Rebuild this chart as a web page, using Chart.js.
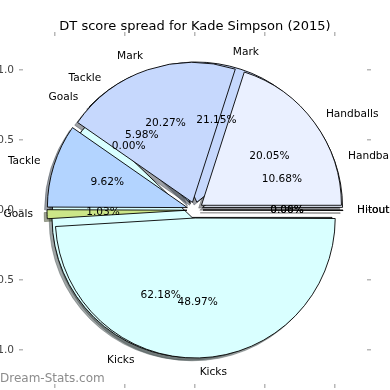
<!DOCTYPE html>
<html>
<head>
<meta charset="utf-8">
<script src="https://cdn.jsdelivr.net/npm/chart.js@4.4.1/dist/chart.umd.min.js"></script>
<style>
  html, body { margin: 0; padding: 0; background: #fff; }
  #wrap { position: relative; width: 390px; height: 390px; overflow: hidden; font-family: 'DejaVu Sans', sans-serif; }
  #wrap canvas { position: absolute; left: 0; top: 0; }
  #title { position: absolute; left: 0; top: 18.5px; width: 390px; text-align: center; font-size: 13px; line-height: 13px; color: #000; white-space: nowrap; }
  #mark { position: absolute; left: 0; top: 371.5px; font-size: 12px; line-height: 12px; color: #8c8c8c; white-space: nowrap; }
</style>
</head>
<body>
<div id="wrap">
  <canvas id="axesChart" width="390" height="420"></canvas>
  <canvas id="backPie" width="390" height="420"></canvas>
  <canvas id="frontPie" width="390" height="420"></canvas>
  <div id="title">DT score spread for Kade Simpson (2015)</div>
  <div id="mark">Dream-Stats.com</div>
</div>
<script>
// Datos (porcentajes, en orden antihorario desde las 3 en punto)
const categories = ['Handballs', 'Mark', 'Tackle', 'Goals', 'Kicks', 'Hitout'];
const backSpread = [10.68, 21.15, 5.98, 0.00, 62.18, 0.00];   // primera tarta (debajo)
const frontSpread = [20.05, 20.27, 9.62, 1.03, 48.97, 0.06];  // segunda tarta (encima)
const sliceColors = ['#eaf0ff', '#c6d8fd', '#b3d4ff', '#cce688', '#d9ffff', '#e4e4e4'];
const axisTicks = [-1.0, -0.5, 0.0, 0.5, 1.0];
const xLimit = 1.2286;
const yLimit = 1.2429;

const EXPLODE = 8;           // px que se separa cada porción
const SHADOW = [-2.8, 2.8];  // desplazamiento de la sombra
const pies = [];
let backPie = null;

function sliceShift(arc) {
    const mid = (arc.startAngle + arc.endAngle) / 2;
    return [Math.cos(mid) * EXPLODE, Math.sin(mid) * EXPLODE];
}

function shadowColor(hex) {
    const n = parseInt(hex.slice(1), 16);
    const r = Math.round(((n >> 16) & 255) * 0.3);
    const g = Math.round(((n >> 8) & 255) * 0.3);
    const b = Math.round((n & 255) * 0.3);
    return `rgba(${r},${g},${b},0.5)`;
}

function fmtTick(v) {
    return Number(v).toFixed(1).replace('-', '\u2212');
}

// Sombras de todas las porciones, dibujadas debajo de las dos tartas
const shadowPlugin = {
    id: 'pieShadows',
    afterDraw(chart) {
        const ctx = chart.ctx;
        pies.forEach(pie => {
            const colors = pie.data.datasets[0].backgroundColor;
            pie.getDatasetMeta(0).data.forEach((arc, i) => {
                if (arc.circumference === 0) return;
                const [dx, dy] = sliceShift(arc);
                ctx.save();
                ctx.translate(dx + SHADOW[0], dy + SHADOW[1]);
                ctx.beginPath();
                ctx.moveTo(arc.x, arc.y);
                ctx.arc(arc.x, arc.y, arc.outerRadius, arc.startAngle, arc.endAngle);
                ctx.closePath();
                ctx.fillStyle = shadowColor(colors[i]);
                ctx.strokeStyle = ctx.fillStyle;
                ctx.lineWidth = 0.8;
                ctx.fill();
                ctx.stroke();
                ctx.restore();
            });
        });
    }
};

// Porciones separadas del centro (explode)
const explodePlugin = {
    id: 'explode',
    beforeDatasetsDraw(chart) {
        const ctx = chart.ctx;
        chart.getDatasetMeta(0).data.forEach(arc => {
            const [dx, dy] = sliceShift(arc);
            ctx.save();
            ctx.translate(dx, dy);
            arc.draw(ctx);
            ctx.restore();
        });
        return false;
    }
};

// Etiquetas y porcentajes de las dos tartas, encima de todo
const labelPlugin = {
    id: 'pieLabels',
    afterDraw(chart) {
        const ctx = chart.ctx;
        ctx.save();
        ctx.fillStyle = '#000';
        ctx.font = '10.6px "DejaVu Sans"';
        ctx.textBaseline = 'middle';
        [backPie, chart].forEach(pie => {
            const values = pie.data.datasets[0].data;
            pie.getDatasetMeta(0).data.forEach((arc, i) => {
                const mid = (arc.startAngle + arc.endAngle) / 2;
                const cx = Math.cos(mid), cy = Math.sin(mid);
                const r = arc.outerRadius;
                const lr = EXPLODE + 1.1 * r;
                const pr = EXPLODE + 0.6 * r;
                ctx.textAlign = cx > 0 ? 'left' : 'right';
                ctx.fillText(pie.data.labels[i], arc.x + cx * lr, arc.y + cy * lr);
                ctx.textAlign = 'center';
                ctx.fillText(values[i].toFixed(2) + '%', arc.x + cx * pr, arc.y + cy * pr);
            });
        });
        ctx.restore();
    }
};

const axisFont = { family: 'DejaVu Sans', size: 10.6 };
const tickGrid = { drawOnChartArea: false, drawTicks: true, tickLength: 4, color: '#b8b8b8', lineWidth: 1.5 };
function fixedTicks(axis) {
    axis.ticks = axisTicks.map(v => ({ value: v }));
}

// Ejes de fondo (solo marcas y etiquetas)
const axesChart = new Chart(document.getElementById('axesChart'), {
    type: 'scatter',
    data: { datasets: [] },
    options: {
        responsive: false,
        animation: false,
        devicePixelRatio: 1,
        events: [],
        layout: { padding: 0 },
        plugins: { legend: { display: false }, tooltip: { enabled: false } },
        scales: {
            x: {
                type: 'linear', position: 'bottom', min: -xLimit, max: xLimit,
                afterBuildTicks: fixedTicks,
                afterFit: a => { a.height = 36; },
                grid: tickGrid,
                border: { display: false },
                ticks: { font: axisFont, color: '#444', padding: 1, maxRotation: 0, callback: fmtTick }
            },
            xTop: {
                type: 'linear', axis: 'x', position: 'top', min: -xLimit, max: xLimit,
                afterBuildTicks: fixedTicks,
                afterFit: a => { a.height = 36; },
                grid: tickGrid,
                border: { display: false },
                ticks: { display: false }
            },
            y: {
                type: 'linear', position: 'left', min: -yLimit, max: yLimit,
                afterBuildTicks: fixedTicks,
                afterFit: a => { a.width = 23; },
                grid: tickGrid,
                border: { display: false },
                ticks: { font: axisFont, color: '#444', padding: 5, callback: fmtTick }
            },
            yRight: {
                type: 'linear', axis: 'y', position: 'right', min: -yLimit, max: yLimit,
                afterBuildTicks: fixedTicks,
                afterFit: a => { a.width = 23; },
                grid: tickGrid,
                border: { display: false },
                ticks: { display: false }
            }
        }
    },
    plugins: [shadowPlugin]
});

// Radio de la tarta = 1 unidad del eje
const xs = axesChart.scales.x;
const unitPx = xs.getPixelForValue(1) - xs.getPixelForValue(0);

function makePie(id, values, extraPlugins) {
    // Chart.js gira en sentido horario: se invierte el orden
    const order = categories.map((_, i) => i).reverse();
    return new Chart(document.getElementById(id), {
        type: 'pie',
        data: {
            labels: order.map(i => categories[i]),
            datasets: [{
                data: order.map(i => values[i]),
                backgroundColor: order.map(i => sliceColors[i]),
                borderColor: '#000',
                borderWidth: 0.9
            }]
        },
        options: {
            responsive: false,
            animation: false,
            devicePixelRatio: 1,
            events: [],
            rotation: 90,
            radius: unitPx,
            layout: { padding: 0 },
            plugins: { legend: { display: false }, tooltip: { enabled: false } }
        },
        plugins: [explodePlugin].concat(extraPlugins)
    });
}

backPie = makePie('backPie', backSpread, []);
pies.push(backPie);
const frontPie = makePie('frontPie', frontSpread, [labelPlugin]);
pies.push(frontPie);

// Redibujar los ejes ahora que existen las sombras
axesChart.draw();
</script>
</body>
</html>
